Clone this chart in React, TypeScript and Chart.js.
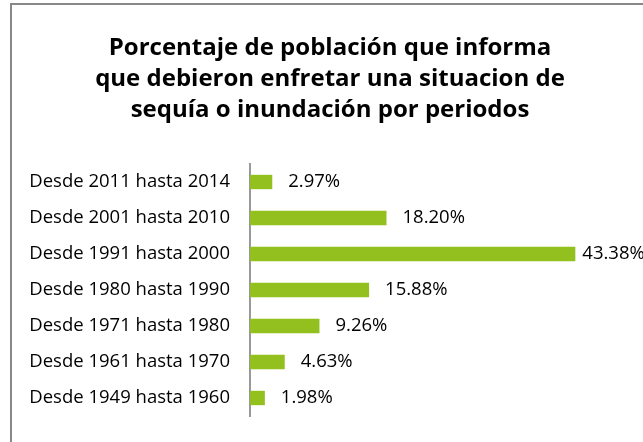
import React, { useEffect, useRef } from "react";
import { Chart, registerables } from "chart.js";

Chart.register(...registerables);

const titleLines = [
  "Porcentaje de población que informa",
  "que debieron enfretar una situacion de",
  "sequía o inundación por periodos",
];
const categories = [
  "Desde 2011 hasta 2014",
  "Desde 2001 hasta 2010",
  "Desde 1991 hasta 2000",
  "Desde 1980 hasta 1990",
  "Desde 1971 hasta 1980",
  "Desde 1961 hasta 1970",
  "Desde 1949 hasta 1960",
];
const values = [2.97, 18.2, 43.38, 15.88, 9.26, 4.63, 1.98];
const valueLabels = ["2.97%", "18.20%", "43.38%", "15.88%", "9.26%", "4.63%", "1.98%"];
const xMax = 52.4;

const FONT = "'Open Sans', sans-serif";

const valueLabelPlugin = {
  id: "valueLabels",
  afterDatasetsDraw(chart: any) {
    const ctx = chart.ctx;
    const meta = chart.getDatasetMeta(0);
    ctx.save();
    ctx.font = `18.5px ${FONT}`;
    ctx.fillStyle = "#000";
    ctx.textAlign = "left";
    ctx.textBaseline = "middle";
    meta.data.forEach((bar: any, i: number) => {
      const txt = valueLabels[i];
      const w = ctx.measureText(txt).width;
      let x = bar.x + 16;
      if (x + w > chart.width) x = bar.x + 7;
      ctx.fillText(txt, x, bar.y);
    });
    ctx.restore();
  },
};

export default function App() {
  const ref = useRef<HTMLCanvasElement>(null);
  useEffect(() => {
    if (!ref.current) return;
    const chart = new Chart(ref.current, {
      type: "bar",
      data: {
        labels: categories,
        datasets: [
          {
            data: values,
            backgroundColor: "#93C01F",
            borderWidth: 0,
            barPercentage: 0.4,
            categoryPercentage: 1,
          },
        ],
      },
      plugins: [valueLabelPlugin],
      options: {
        indexAxis: "y",
        animation: false,
        responsive: false,
        maintainAspectRatio: false,
        layout: { padding: { left: 17, right: 0, top: 32.5, bottom: 26 } },
        plugins: {
          legend: { display: false },
          tooltip: { enabled: false },
          title: {
            display: true,
            text: titleLines,
            color: "#000",
            font: { family: FONT, size: 24, weight: "bold", lineHeight: 31 / 24 },
            padding: { top: 0, bottom: 38.5 },
          },
        },
        scales: {
          x: {
            display: false,
            min: 0,
            max: xMax,
          },
          y: {
            grid: { display: false, drawTicks: false },
            border: { display: true, color: "#999", width: 2 },
            ticks: {
              color: "#000",
              padding: 20,
              font: { family: FONT, size: 18.5 },
            },
            afterFit: (scale: any) => {
              scale.width = 233;
              scale.paddingTop = 0;
              scale.paddingBottom = 0;
            },
          },
        },
      },
    });
    return () => chart.destroy();
  }, []);
  return (
    <div
      style={{
        position: "fixed",
        left: 0,
        top: 0,
        width: 643,
        height: 442,
        overflow: "hidden",
        background: "#fff",
      }}
    >
      <div
        style={{
          position: "absolute",
          left: 10,
          top: 3,
          width: 700,
          height: 500,
          border: "2px solid #888",
          boxSizing: "border-box",
        }}
      />
      <canvas
        ref={ref}
        width={643}
        height={442}
        style={{ position: "absolute", left: 0, top: 0 }}
      />
    </div>
  );
}
